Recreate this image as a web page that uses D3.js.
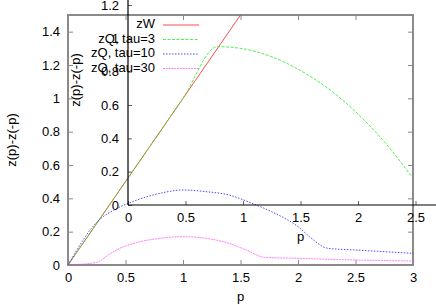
<!DOCTYPE html>
<html>
<head>
<meta charset="utf-8">
<script src="https://cdn.jsdelivr.net/npm/d3@7"></script>
<style>
  html, body { margin: 0; padding: 0; background: #fff; }
  svg { display: block; font-family: "Liberation Sans", Arial, sans-serif; }
</style>
</head>
<body>
<div id="chart"></div>
<script>
// ---- data ----
const seriesNames = ["zW", "zQ, tau=3", "zQ, tau=10", "zQ, tau=30"];
const seriesColors = ["#ff2020", "#22ee22", "#2020ff", "#ff33ff"];

const zW_p = [0, 0.5, 1.0, 1.5, 2.0, 2.5, 3.0];
const zW_z = [0, 0.5, 1.0, 1.5, 2.0, 2.5, 3.0];

const zQ3_p = [0, 0.5, 1.0, 1.30, 1.50, 1.75, 2.00, 2.25, 2.50, 2.75, 3.0];
const zQ3_z = [0, 0.5, 1.0, 1.31, 1.30, 1.255, 1.175, 1.065, 0.92, 0.74, 0.52];

const zQ10_p = [0, 0.27, 0.40, 0.60, 0.80, 1.00, 1.20, 1.40, 1.60, 1.80, 2.00, 2.10, 2.26, 2.50, 2.75, 3.0];
const zQ10_z = [0, 0.27, 0.33, 0.39, 0.43, 0.45, 0.44, 0.42, 0.37, 0.31, 0.23, 0.17, 0.10, 0.09, 0.08, 0.07];

const zQ30_p = [0, 0.25, 0.35, 0.45, 0.60, 0.80, 1.00, 1.20, 1.40, 1.55, 1.71, 2.00, 2.50, 3.0];
const zQ30_z = [0, 0.016, 0.06, 0.10, 0.135, 0.16, 0.17, 0.16, 0.13, 0.09, 0.046, 0.04, 0.03, 0.024];

const xTicks = [0, 0.5, 1, 1.5, 2, 2.5, 3];
const yTicks = [0, 0.2, 0.4, 0.6, 0.8, 1, 1.2, 1.4];
const insetXTicks = [0, 0.5, 1, 1.5, 2, 2.5];
const insetYTicks = [0, 0.2, 0.4, 0.6, 0.8, 1, 1.2];
const xLabel = "p";
const yLabel = "z(p)-z(-p)";

// ---- layout ----
const W = 436, H = 305;
const FS = "13px";
const svg = d3.select("#chart").append("svg").attr("width", W).attr("height", H);
const fmt = d => d3.format(".1~f")(d);

// main plot scales
const x = d3.scaleLinear().domain([0, 3]).range([68, 413]);
const y = d3.scaleLinear().domain([0, 1.5]).range([265, 15]);
// inset (shifted) scales
const xi = d3.scaleLinear().domain([0, 3]).range([128, 473]);
const yi = d3.scaleLinear().domain([0, 1.5]).range([205, -45]);

svg.append("defs").append("clipPath").attr("id", "clip")
  .append("rect").attr("x", x(0)).attr("y", y(1.5)).attr("width", x(3) - x(0)).attr("height", y(0) - y(1.5));

const gray = "#8a8a8a";

function styleAxis(g, tickColor) {
  g.select(".domain").remove();
  g.selectAll(".tick line").attr("stroke", tickColor);
  g.selectAll(".tick text").attr("fill", "#000").style("font-size", FS)
    .style("font-family", "'Liberation Sans', Arial, sans-serif");
}
// main axes
svg.append("g").attr("transform", `translate(0,${y(0)})`)
  .call(d3.axisBottom(x).tickValues(xTicks).tickFormat(fmt).tickSize(-5).tickPadding(8))
  .call(g => styleAxis(g, gray));
svg.append("g").attr("transform", `translate(0,${y(1.5)})`)
  .call(d3.axisTop(x).tickValues(xTicks).tickFormat("").tickSize(-5))
  .call(g => styleAxis(g, gray));
svg.append("g").attr("transform", `translate(${x(0)},0)`)
  .call(d3.axisLeft(y).tickValues(yTicks).tickFormat(fmt).tickSize(-5).tickPadding(8))
  .call(g => styleAxis(g, gray));
svg.append("g").attr("transform", `translate(${x(3)},0)`)
  .call(d3.axisRight(y).tickValues(yTicks).tickFormat("").tickSize(-5))
  .call(g => styleAxis(g, gray));

svg.append("rect").attr("x", x(0)).attr("y", y(1.5))
  .attr("width", x(3) - x(0)).attr("height", y(0) - y(1.5))
  .attr("fill", "none").attr("stroke", gray).attr("stroke-width", 2);

// main axis labels
svg.append("text").attr("x", (x(0) + x(3)) / 2).attr("y", 298).attr("text-anchor", "middle")
  .attr("dominant-baseline", "middle").style("font-size", FS).text(xLabel);
svg.append("text").attr("transform", `translate(13,${(y(0) + y(1.5)) / 2}) rotate(-90)`)
  .attr("text-anchor", "middle").attr("dominant-baseline", "middle").style("font-size", FS).text(yLabel);

// data lines
const line = d3.line().x(d => x(d[0])).y(d => y(d[1])).curve(d3.curveMonotoneX);
const series = [
  { p: zW_p, z: zW_z, dash: null },
  { p: zQ3_p, z: zQ3_z, dash: "3,1.5" },
  { p: zQ10_p, z: zQ10_z, dash: "1.5,1.5" },
  { p: zQ30_p, z: zQ30_z, dash: "2,0.8" }
];
const gData = svg.append("g").attr("clip-path", "url(#clip)");
series.forEach((s, i) => {
  gData.append("path").datum(s.p.map((pv, j) => [pv, s.z[j]]))
    .attr("d", line).attr("fill", "none").attr("stroke", seriesColors[i])
    .attr("stroke-width", 0.9).attr("stroke-dasharray", s.dash)
    .attr("stroke-opacity", i === 3 ? 0.7 : 0.9);
});

// inset axes (left and bottom only)
svg.append("g").attr("transform", `translate(0,${yi(0)})`)
  .call(d3.axisBottom(xi).tickValues(insetXTicks).tickFormat(fmt).tickSize(-4).tickPadding(8).tickSizeOuter(0))
  .call(g => styleAxis(g, "#666"));
svg.append("g").attr("transform", `translate(${xi(0)},0)`)
  .call(d3.axisLeft(yi).tickValues(insetYTicks).tickFormat(fmt).tickSize(-4).tickPadding(9).tickSizeOuter(0))
  .call(g => styleAxis(g, "#666"));
svg.append("line").attr("x1", xi(0)).attr("x2", W).attr("y1", yi(0)).attr("y2", yi(0))
  .attr("stroke", "#000").attr("stroke-width", 1.2);
svg.append("line").attr("x1", xi(0)).attr("x2", xi(0)).attr("y1", yi(0)).attr("y2", 0)
  .attr("stroke", "#000").attr("stroke-width", 1.2);

svg.append("text").attr("x", (xi(0) + xi(3)) / 2).attr("y", 238).attr("text-anchor", "middle")
  .attr("dominant-baseline", "middle").style("font-size", FS).text(xLabel);
svg.append("text").attr("transform", `translate(77,${(yi(0) + yi(1.5)) / 2}) rotate(-90)`)
  .attr("text-anchor", "middle").attr("dominant-baseline", "middle").style("font-size", FS).text(yLabel);

// legend
const legY = [25, 39.5, 54, 68.5];
seriesNames.forEach((n, i) => {
  svg.append("text").attr("x", 155).attr("y", legY[i]).attr("text-anchor", "end")
    .attr("dominant-baseline", "middle").style("font-size", FS).text(n);
  svg.append("line").attr("x1", 163).attr("x2", 199).attr("y1", legY[i]).attr("y2", legY[i])
    .attr("stroke", seriesColors[i]).attr("stroke-width", 0.9).attr("stroke-dasharray", series[i].dash)
    .attr("stroke-opacity", i === 3 ? 0.7 : 0.9);
});
</script>
</body>
</html>
